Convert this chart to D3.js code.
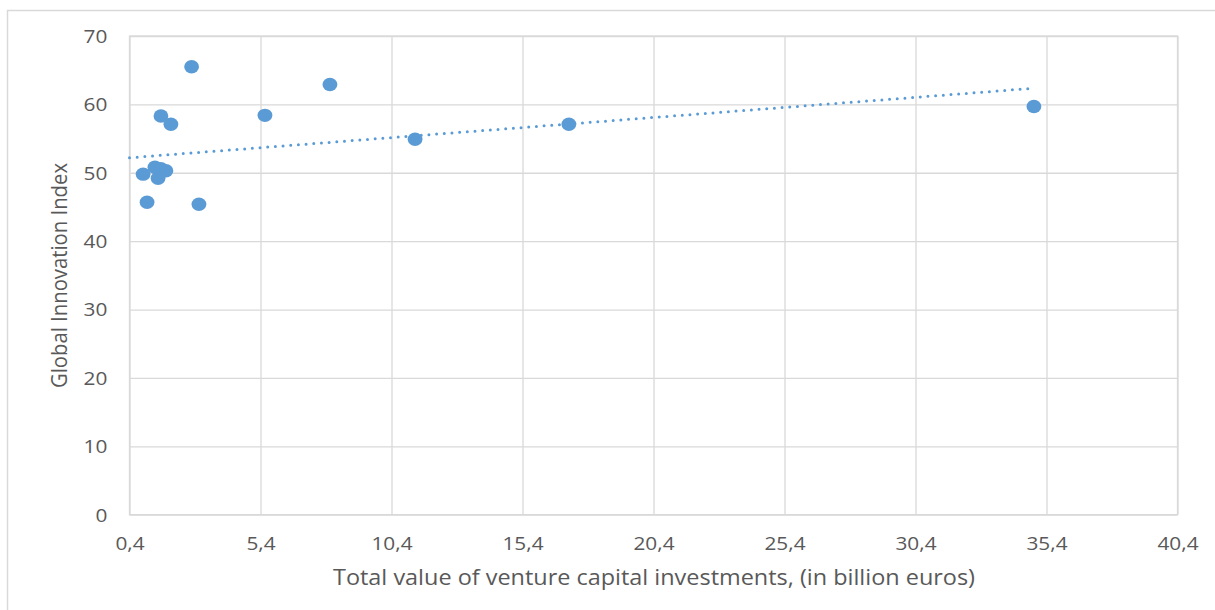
<!DOCTYPE html>
<html>
<head>
<meta charset="utf-8">
<script src="https://cdn.jsdelivr.net/npm/d3@7"></script>
<style>
  html, body { margin: 0; padding: 0; background: #fff; }
  svg { display: block; }
  text { font-family: "Open Sans", "Liberation Sans", sans-serif; fill: #595959; }
</style>
</head>
<body>
<svg id="chart" width="1215" height="610"></svg>
<script>
// ---- data ----
const xValues = [0.92, 1.07, 1.37, 1.60, 1.49, 1.79, 1.60, 1.98, 2.77, 3.05, 5.57, 8.05, 11.30, 17.17, 34.92];
const yValues = [49.8, 45.7, 50.8, 50.6, 49.2, 50.3, 58.3, 57.1, 65.5, 45.4, 58.4, 62.9, 54.9, 57.1, 59.7];
const xTicks = [0.4, 5.4, 10.4, 15.4, 20.4, 25.4, 30.4, 35.4, 40.4];
const yTicks = [0, 10, 20, 30, 40, 50, 60, 70];
const trendX = [0.4, 34.7];
const trendY = [52.2, 62.3];
const xTitle = "Total value of venture capital investments, (in billion euros)";
const yTitle = "Global Innovation Index";

const svg = d3.select("#chart");
const W = 1215, H = 610;
const plot = { left: 129.5, right: 1177.5, top: 36, bottom: 514.7 };
const FONT = '"Open Sans", "Liberation Sans", sans-serif';

// outer chart border
svg.append("rect")
  .attr("x", 7.5).attr("y", 10.5)
  .attr("width", W + 10).attr("height", H + 10)
  .attr("fill", "none").attr("stroke", "#d9d9d9").attr("stroke-width", 1.5);

const x = d3.scaleLinear().domain([0.4, 40.4]).range([plot.left, plot.right]);
const y = d3.scaleLinear().domain([0, 70]).range([plot.bottom, plot.top]);

const fmtX = v => d3.format(".1f")(v).replace(".", ",");

// gridlines + labels via axes
const gx = svg.append("g")
  .attr("transform", `translate(0,${plot.bottom})`)
  .call(d3.axisBottom(x).tickValues(xTicks).tickSize(-(plot.bottom - plot.top)).tickFormat(fmtX).tickPadding(0));
const gy = svg.append("g")
  .attr("transform", `translate(${plot.left},0)`)
  .call(d3.axisLeft(y).tickValues(yTicks).tickSize(-(plot.right - plot.left)).tickFormat(d3.format("d")).tickPadding(22));

[gx, gy].forEach(g => {
  g.select(".domain").remove();
  g.selectAll(".tick line").attr("stroke", "#d9d9d9").attr("stroke-width", 1.3);
  g.selectAll(".tick text").attr("font-size", 17.8).style("fill", "#595959")
    .style("font-family", FONT);
});
gx.selectAll(".tick text").attr("y", 35.3).attr("dy", null);
gy.selectAll(".tick text").attr("x", -22.2).attr("dy", "0.36em");

// stretch tick labels horizontally to match reference glyph widths
const tickFactor = 1.17;
svg.selectAll(".tick text").each(function () {
  const w = this.getComputedTextLength();
  d3.select(this).attr("textLength", w * tickFactor).attr("lengthAdjust", "spacingAndGlyphs");
});

// plot area border
svg.append("rect")
  .attr("x", plot.left).attr("y", plot.top)
  .attr("width", plot.right - plot.left).attr("height", plot.bottom - plot.top)
  .attr("fill", "none").attr("stroke", "#d9d9d9").attr("stroke-width", 1.3);

// trendline
const trend = trendX.map((d, i) => [d, trendY[i]]);
svg.append("path")
  .datum(trend)
  .attr("d", d3.line().x(d => x(d[0])).y(d => y(d[1])))
  .attr("fill", "none")
  .attr("stroke", "#5b9bd5")
  .attr("stroke-width", 3)
  .attr("stroke-linecap", "round")
  .attr("stroke-dasharray", "0 7.7");

// points
const pts = xValues.map((d, i) => ({ x: d, y: yValues[i] }));
svg.append("g").selectAll("ellipse")
  .data(pts)
  .join("ellipse")
  .attr("cx", d => x(d.x))
  .attr("cy", d => y(d.y))
  .attr("rx", 7.4)
  .attr("ry", 6.7)
  .attr("fill", "#5b9bd5");

// axis titles
function fit(sel, target) {
  const w = sel.node().getComputedTextLength();
  sel.attr("textLength", target).attr("lengthAdjust", "spacingAndGlyphs");
  return w;
}
const xt = svg.append("text")
  .attr("x", 654).attr("y", 585)
  .attr("text-anchor", "middle")
  .attr("font-size", 21.5)
  .text(xTitle);
fit(xt, 642);

const yt = svg.append("text")
  .attr("transform", `translate(67,${275.5}) rotate(-90)`)
  .attr("text-anchor", "middle")
  .attr("font-size", 21.5)
  .text(yTitle);
fit(yt, 225);
</script>
</body>
</html>
